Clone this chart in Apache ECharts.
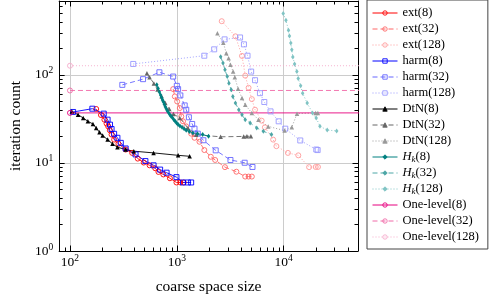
<!DOCTYPE html>
<html><head><meta charset="utf-8">
<script src="https://cdn.jsdelivr.net/npm/echarts@6/dist/echarts.min.js"></script>
<style>html,body{margin:0;padding:0;background:#fff}#c{width:489px;height:300px}</style>
</head><body><div id="c"></div>
<script>
// ---- data ----
const ext8X  = [176, 195, 210, 220, 228, 236, 245, 259, 284, 332, 382, 431, 490, 556, 628, 673, 748, 862, 992, 1079, 1160];
const ext8Y  = [41, 35, 31, 28, 26, 23.5, 21, 18.4, 16.5, 14.2, 13, 11.2, 10.1, 9.4, 8.7, 7.9, 7.4, 6.7, 6, 6, 6];
const ext32X = [925, 958, 1007, 1066, 1102, 1143, 1225, 1362, 1464, 1629, 1810, 2081, 2284, 2822, 3610, 4365, 4695, 5035];
const ext32Y = [69, 56.9, 49.9, 42, 33.8, 29.7, 26, 21.5, 19.3, 17.4, 14, 11.75, 10.8, 8.96, 7.95, 7, 7, 7];
const ext128X = [2632, 3535, 4075, 4368, 4695, 5035, 5396, 6223, 6670, 7972, 8550, 10960, 13710, 17300, 19950, 20940];
const ext128Y = [407, 274, 164, 98, 71.3, 53.1, 40.2, 30.2, 25.4, 18.4, 15.5, 13, 12.2, 8.96, 9, 9];

const harm8X  = [107, 162, 207, 225, 237, 245, 259, 278, 299, 332, 411, 508, 606, 698, 802, 992, 1143, 1270, 1362];
const harm8Y  = [37.9, 41.3, 36.3, 31, 27.2, 24.3, 21.4, 19.3, 16.9, 14.6, 12.5, 10.5, 9.4, 8.4, 7.75, 6.9, 6, 6, 6];
const harm32X = [309, 483, 687, 924, 1000, 1028, 1079, 1185, 1225, 1297, 1392, 1464, 1571, 1772, 2312, 3177, 4315, 5105];
const harm32Y = [77, 89.4, 107, 95.7, 75, 68.9, 58.4, 45, 40.2, 33, 27.7, 24.5, 21.5, 18.1, 13.9, 10.8, 10.05, 9];
const harm128X = [391, 1808, 2237, 2800, 3908, 4249, 4591, 4961, 5396, 5998, 6588, 7532, 8980, 10350, 14300, 20200, 20800];
const harm128Y = [133, 165, 195, 253, 266, 222, 165, 109, 87, 62, 49.2, 38.5, 29.7, 24.5, 18, 14.2, 14];

const dtn8X  = [104, 119, 133, 147, 164, 176, 189, 202, 225, 250, 278, 332, 396, 606, 1028, 1318];
const dtn8Y  = [38.5, 35.3, 32.4, 29.7, 27.7, 25, 22.3, 20.5, 18.4, 16.5, 15.1, 14.2, 13.6, 13.0, 12.2, 11.9];
const dtn32X = [525, 556, 610, 660, 720, 780, 850, 930, 1066, 1270, 1515, 2571, 4223, 4529, 4930];
const dtn32Y = [104, 94, 80, 68, 57, 48, 41, 36, 32.4, 25, 20.9, 19.8, 20, 20.1, 20.1];
const dtn128X = [2398, 2723, 2904, 3053, 3177, 3365, 3490, 3743, 4075, 4368, 5035, 5805, 7171, 10190, 11920, 13330, 19950, 20900];
const dtn128Y = [296, 232, 176, 154, 130, 109, 94, 69.5, 54.5, 45.8, 36.9, 31, 26, 23.3, 25.4, 36.3, 36.9, 36.9];

const hk8X  = [649, 668, 687, 705, 722, 735, 748, 764, 780, 797, 814, 838, 862, 884, 906, 935, 965, 995, 1028, 1070, 1119, 1170, 1225, 1310, 1412, 1560, 1746, 1982];
const hk8Y  = [77, 70, 64, 59, 55, 52, 49.5, 46.5, 43.5, 41.2, 39.2, 37.2, 35.3, 34, 32.7, 31.1, 29.7, 28.5, 27.4, 26.3, 25.4, 24.4, 23.5, 22.7, 21.9, 21.4, 21, 20.1];
const hk32X = [2571, 2704, 2823, 2965, 3074, 3228, 3345, 3535, 3800, 4075, 4368, 4854, 5594, 6452, 7690];
const hk32Y = [161, 136, 114, 95.7, 80.5, 67.7, 56.9, 47.9, 40.2, 35.3, 31, 28.5, 25, 22.9, 21];
const hk128X = [9900, 10500, 11090, 11330, 11660, 11920, 12180, 12650, 13290, 13680, 14410, 15050, 16600, 18620, 20160, 21850, 25550, 31330];
const hk128Y = [498, 418, 322, 276, 230, 193, 160, 133, 109, 90.8, 75.1, 61.8, 47.9, 36.9, 32.4, 26.1, 23.6, 23.1];

const oneLevelX = [100, 100000];
const one8Y   = [37, 37];
const one32Y  = [66.5, 66.5];
const one128Y = [127, 127];

// axis extents and tick values
const X_MIN = 79.2, X_MAX = 49620, Y_MIN = 1, Y_MAX = 690;
const xMajorTicks = [100, 1000, 10000];
const xMinorTicks = [80, 90, 200, 300, 400, 500, 600, 700, 800, 900, 2000, 3000, 4000, 5000, 6000, 7000, 8000, 9000, 20000, 30000, 40000];
const yMajorTicks = [1, 10, 100];
const yMinorTicks = [2, 3, 4, 5, 6, 7, 8, 9, 20, 30, 40, 50, 60, 70, 80, 90, 200, 300, 400, 500, 600];

const FONT = '"Liberation Serif", "Times New Roman", serif';

function zip(xs, ys) { return xs.map((x, i) => [x, ys[i]]); }

const defs = [
  { name: 'ext(8)',   x: ext8X,   y: ext8Y,   c: '#ff0000', dash: 'solid',  sym: 'circle', hollow: true,  size: 5 },
  { name: 'ext(32)',  x: ext32X,  y: ext32Y,  c: '#ff6666', dash: [5, 3],   sym: 'circle', hollow: true,  size: 5 },
  { name: 'ext(128)', x: ext128X, y: ext128Y, c: '#ff9999', dash: [1, 2],   sym: 'circle', hollow: true,  size: 5 },
  { name: 'harm(8)',  x: harm8X,  y: harm8Y,  c: '#0000ff', dash: 'solid',  sym: 'rect',   hollow: true,  size: 5 },
  { name: 'harm(32)', x: harm32X, y: harm32Y, c: '#6666ff', dash: [5, 3],   sym: 'rect',   hollow: true,  size: 5 },
  { name: 'harm(128)',x: harm128X,y: harm128Y,c: '#9999ff', dash: [1, 2],   sym: 'rect',   hollow: true,  size: 5 },
  { name: 'DtN(8)',   x: dtn8X,   y: dtn8Y,   c: '#000000', dash: 'solid',  sym: 'triangle', hollow: false, size: 4.5 },
  { name: 'DtN(32)',  x: dtn32X,  y: dtn32Y,  c: '#666666', dash: [5, 3],   sym: 'triangle', hollow: false, size: 4.5 },
  { name: 'DtN(128)', x: dtn128X, y: dtn128Y, c: '#999999', dash: [1, 2],   sym: 'triangle', hollow: false, size: 4.5 },
  { name: 'H_k(8)',   x: hk8X,    y: hk8Y,    c: '#008080', dash: 'solid',  sym: 'diamond', hollow: false, size: [3.5, 5] },
  { name: 'H_k(32)',  x: hk32X,   y: hk32Y,   c: '#4da6a6', dash: [5, 3],   sym: 'diamond', hollow: false, size: [3.5, 5] },
  { name: 'H_k(128)', x: hk128X,  y: hk128Y,  c: '#80c4c4', dash: [1, 2],   sym: 'diamond', hollow: false, size: [3.5, 5] },
  { name: 'One-level(8)',   x: oneLevelX, y: one8Y,   c: '#e6007e', dash: 'solid', sym: 'circle', hollow: true, size: 5 },
  { name: 'One-level(32)',  x: oneLevelX, y: one32Y,  c: '#f06aa8', dash: [5, 3],  sym: 'circle', hollow: true, size: 5 },
  { name: 'One-level(128)', x: oneLevelX, y: one128Y, c: '#f5aacb', dash: [1, 2],  sym: 'circle', hollow: true, size: 5 }
];

const series = defs.map(d => ({
  name: d.name,
  type: 'line',
  xAxisIndex: 0,
  yAxisIndex: 0,
  data: zip(d.x, d.y),
  clip: true,
  symbol: d.sym,
  symbolSize: d.size,
  showAllSymbol: true,
  lineStyle: { color: d.c, width: 0.9, type: d.dash },
  itemStyle: d.hollow
    ? { color: 'rgba(255,255,255,0)', borderColor: d.c, borderWidth: 0.9 }
    : { color: d.c, borderColor: d.c, borderWidth: 0 },
  emphasis: { disabled: true },
  z: 3
}));

const labelRich = {
  b: { fontFamily: FONT, fontSize: 13.5, color: '#000', lineHeight: 14 },
  s: { fontFamily: FONT, fontSize: 9.5, color: '#000', lineHeight: 10, padding: [0, 0, 8, 0] }
};
function powLabel(v) { return '{b|10}{s|' + Math.round(Math.log10(v)) + '}'; }

const axisLineStyle = { color: '#000', width: 1 };

function xAx(pos, major, withLabel) {
  return {
    type: 'log', logBase: 10, position: pos, min: X_MIN, max: X_MAX,
    axisLine: { show: major, onZero: false, lineStyle: axisLineStyle },
    axisTick: { show: true, inside: true, length: major ? 5.5 : 3.5, customValues: major ? xMajorTicks : xMinorTicks, lineStyle: { color: '#000', width: 1 } },
    axisLabel: withLabel ? { show: true, customValues: xMajorTicks, formatter: powLabel, rich: labelRich, margin: 4, hideOverlap: false } : { show: false },
    splitLine: { show: major && withLabel, lineStyle: { color: '#cccccc', width: 1 } },
    minorTick: { show: false }, minorSplitLine: { show: false },
    name: withLabel ? 'coarse space size' : '',
    nameLocation: 'middle', nameGap: 28,
    nameTextStyle: { fontFamily: FONT, fontSize: 15.5, color: '#000' }
  };
}
function yAx(pos, major, withLabel) {
  return {
    type: 'log', logBase: 10, position: pos, min: Y_MIN, max: Y_MAX,
    axisLine: { show: major, onZero: false, lineStyle: axisLineStyle },
    axisTick: { show: true, inside: true, length: major ? 5.5 : 3.5, customValues: major ? yMajorTicks : yMinorTicks, lineStyle: { color: '#000', width: 1 } },
    axisLabel: withLabel ? { show: true, customValues: yMajorTicks, formatter: powLabel, rich: labelRich, margin: 6, hideOverlap: false } : { show: false },
    splitLine: { show: major && withLabel, lineStyle: { color: '#cccccc', width: 1 } },
    minorTick: { show: false }, minorSplitLine: { show: false },
    name: withLabel ? 'iteration count' : '',
    nameLocation: 'middle', nameGap: 34,
    nameTextStyle: { fontFamily: FONT, fontSize: 15.5, color: '#000' }
  };
}

const chart = echarts.init(document.getElementById('c'), null, { renderer: 'canvas' });
chart.setOption({
  animation: false,
  backgroundColor: '#fff',
  grid: { left: 54, right: 131, top: 1, bottom: 48, containLabel: false },
  xAxis: [xAx('bottom', true, true), xAx('bottom', false, false), xAx('top', true, false), xAx('top', false, false)],
  yAxis: [yAx('left', true, true), yAx('left', false, false), yAx('right', true, false), yAx('right', false, false)],
  legend: {
    orient: 'vertical', left: 367, top: 0,
    padding: [5, 9, 4, 5],
    itemWidth: 25, itemHeight: 5.5, itemGap: 0,
    borderColor: '#444', borderWidth: 1, backgroundColor: '#fff',
    selectedMode: false,
    itemStyle: { borderWidth: 0.9 },
    lineStyle: { width: 1 },
    formatter: function (name) {
      if (name.indexOf('H_k') === 0) return '{i|H}{k|k}' + name.slice(3);
      return name;
    },
    textStyle: {
      fontFamily: FONT, fontSize: 12.5, color: '#000', lineHeight: 16,
      rich: {
        i: { fontFamily: FONT, fontSize: 12.5, fontStyle: 'italic', color: '#000', lineHeight: 16 },
        k: { fontFamily: FONT, fontSize: 9, fontStyle: 'italic', color: '#000', lineHeight: 10, padding: [6, 0, 0, 0] }
      }
    },
    data: defs.map(d => d.name)
  },
  series: series
});
</script>
</body></html>
